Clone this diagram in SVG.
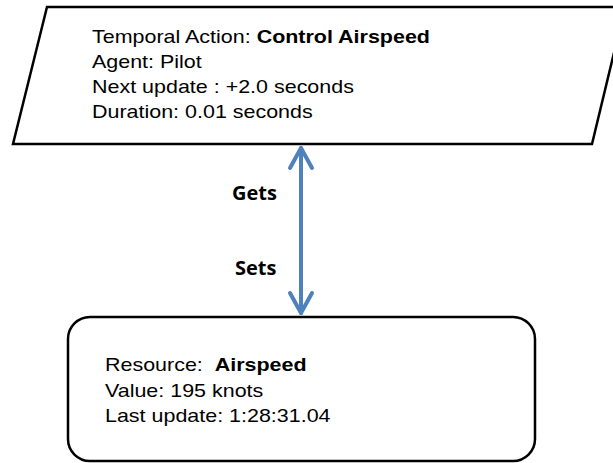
<svg xmlns="http://www.w3.org/2000/svg" width="613" height="463" viewBox="0 0 613 463">
<style>
.shape{fill:#fff;stroke:#000;stroke-width:2.5}
.t{font-family:"Liberation Sans",Arial,sans-serif;font-size:19px;fill:#000}
.b{font-weight:bold}
.lbl{font-family:"Open Sans","DejaVu Sans",sans-serif;font-size:20px;font-weight:bold;fill:#000}
.conn{stroke:#4F81BD;stroke-width:4;fill:none;stroke-linecap:round;stroke-linejoin:round}
</style>
<rect width="613" height="463" fill="#fff"/>
<g id="action">
<polygon class="shape" points="47,7 625,7 592,144 13,144"/>
<g transform="translate(92,0) scale(1.13,1)">
<text class="t" x="0" y="43">Temporal Action: <tspan class="b">Control Airspeed</tspan></text>
<text class="t" x="0" y="68">Agent: Pilot</text>
<text class="t" x="0" y="93">Next update : +2.0 seconds</text>
<text class="t" x="0" y="118">Duration: 0.01 seconds</text>
</g>
</g>
<g id="resource">
<rect class="shape" x="68" y="317" width="467" height="144" rx="22" ry="22"/>
<g transform="translate(105,0) scale(1.13,1)">
<text class="t" x="0" y="371">Resource:&#160; <tspan class="b">Airspeed</tspan></text>
<text class="t" x="0" y="397">Value: 195 knots</text>
<text class="t" x="0" y="422">Last update: 1:28:31.04</text>
</g>
</g>
<g id="connectors">
<line class="conn" x1="301" y1="148" x2="301" y2="313"/>
<polyline class="conn" points="290,168 301,148 312,168"/>
<polyline class="conn" points="290,293 301,313 312,293"/>
<text class="lbl" x="232" y="200">Gets</text>
<text class="lbl" x="235" y="275">Sets</text>
</g>
</svg>
